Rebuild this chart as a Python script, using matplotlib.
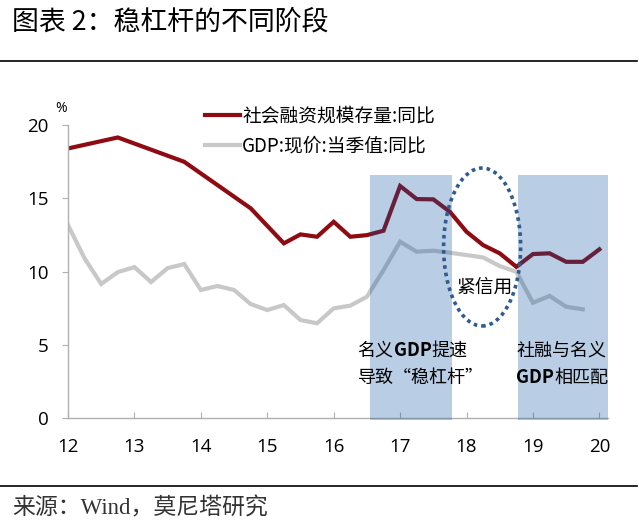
import matplotlib
matplotlib.use("Agg")
import matplotlib.pyplot as plt
from matplotlib.patches import Rectangle, Ellipse

plt.rcParams['font.family'] = ['Noto Sans CJK SC', 'DejaVu Sans']

# ---- data ----
tsf_x = [12.0, 12.75, 13.75, 14.75, 15.25, 15.5, 15.75, 16.0, 16.25, 16.5, 16.75,
         17.0, 17.25, 17.5, 17.75, 18.0, 18.25, 18.5, 18.75, 19.0, 19.25, 19.5, 19.75, 20.0]
tsf_y = [18.4, 19.15, 17.49, 14.32, 11.93, 12.54, 12.38, 13.4, 12.38, 12.49, 12.79,
         15.84, 14.95, 14.93, 14.08, 12.72, 11.81, 11.25, 10.33, 11.2, 11.25, 10.67, 10.67, 11.52]

gdp_x = [12.0, 12.25, 12.5, 12.75, 13.0, 13.25, 13.5, 13.75, 14.0, 14.25, 14.5, 14.75,
         15.0, 15.25, 15.5, 15.75, 16.0, 16.25, 16.5, 16.75, 17.0, 17.25, 17.5, 17.75,
         18.0, 18.25, 18.5, 18.75, 19.0, 19.25, 19.5, 19.75]
gdp_y = [13.18, 10.9, 9.16, 9.97, 10.31, 9.29, 10.24, 10.52, 8.75, 9.02, 8.75, 7.79,
         7.38, 7.72, 6.7, 6.48, 7.5, 7.68, 8.29, 10.1, 12.04, 11.36, 11.43, 11.29,
         11.13, 10.97, 10.38, 9.99, 7.88, 8.34, 7.61, 7.43]

series_labels = ['社会融资规模存量:同比', 'GDP:现价:当季值:同比']
x_ticks = [12, 13, 14, 15, 16, 17, 18, 19, 20]
y_ticks = [0, 5, 10, 15, 20]

bands = [(16.54, 17.78), (18.77, 20.13)]
band_top = 16.58
ellipse_center = (18.235, 11.68)
ellipse_size = (1.16, 10.77)

title = '图表 2：稳杠杆的不同阶段'
source = '来源：Wind，莫尼塔研究'

# ---- figure ----
fig = plt.figure(figsize=(6.39, 5.27), dpi=100)
ax = fig.add_axes([68 / 639, 1 - 418.3 / 527, 540 / 639, 293.3 / 527])

red = '#8e0b12'
grey = '#c8c8c8'
ax.plot(tsf_x, tsf_y, color=red, lw=3.0, solid_joinstyle='miter', zorder=2, label=series_labels[0])
ax.plot(gdp_x, gdp_y, color=grey, lw=3.0, solid_joinstyle='miter', zorder=1, label=series_labels[1])

for x0, x1 in bands:
    ax.add_patch(Rectangle((x0, -0.15), x1 - x0, band_top + 0.15, facecolor=(14/255, 83/255, 162/255),
                           alpha=0.29, edgecolor='none', zorder=3, clip_on=False))

ax.add_patch(Ellipse(ellipse_center, ellipse_size[0], ellipse_size[1], fill=False,
                     edgecolor='#2f5b8e', lw=2.6, linestyle=(0, (1, 1.1)), zorder=4))

ax.text(18.28, 8.95, '紧信用', fontsize=13.5, ha='center', va='center', zorder=5)


def rich_text(x, y, pieces, size=13):
    """pieces: list of (text, bold) drawn one after another on a line."""
    prev = None
    for txt, bold in pieces:
        kw = dict(fontsize=size, va='bottom', ha='left', zorder=5,
                  fontweight='bold' if bold else 'normal')
        if prev is None:
            prev = ax.text(x, y, txt, **kw)
        else:
            prev = ax.annotate(txt, xy=(1, 0), xycoords=prev, **kw)
    return prev


rich_text(16.36, 4.66 - 0.68, [('名义', False), ('GDP', True), ('提速', False)])
rich_text(16.36, 2.82 - 0.68, [('导致“稳杠杆”', False)])
rich_text(18.75, 4.66 - 0.68, [('社融与名义', False)])
rich_text(18.75, 2.82 - 0.68, [('GDP', True), ('相匹配', False)])

ax.set_xlim(12, 20.13)
ax.set_ylim(0, 20)
ax.set_xticks(x_ticks)
ax.set_yticks(y_ticks)
ax.set_xticklabels([str(v) for v in x_ticks], family='Open Sans', fontsize=13.5)
ax.set_yticklabels([str(v) for v in y_ticks], family='Open Sans', fontsize=13.5)
ax.tick_params(axis='x', direction='in', length=4, color='#b0b0b0', pad=14)
ax.tick_params(axis='y', direction='out', length=4, color='#b0b0b0', pad=10)
for s in ['top', 'right']:
    ax.spines[s].set_visible(False)
for s in ['left', 'bottom']:
    ax.spines[s].set_color('#b0b0b0')
    ax.spines[s].set_linewidth(1)

ax.text(-0.012, 1.057, '%', transform=ax.transAxes, fontsize=10, ha='center', va='center',
        family='Open Sans')

leg = ax.legend(loc='upper left', bbox_to_anchor=(0.254, 1.0655), frameon=False, fontsize=13.5,
                handlelength=1.87, handletextpad=0.1, labelspacing=0.46, borderpad=0,
                borderaxespad=0)

fig.text(12 / 639, 1 - 22 / 527, title, fontsize=19.4, ha='left', va='center')
fig.add_artist(plt.Line2D([0, 637 / 639], [1 - 60.5 / 527] * 2, color='black', lw=1.2))
fig.add_artist(plt.Line2D([0, 637 / 639], [1 - 486 / 527] * 2, color='black', lw=1.2))
fig.text(12 / 639, 1 - 508 / 527, source, fontsize=16.5, ha='left', va='center',
         family=['Liberation Serif', 'Noto Sans CJK SC'], color='#333333')

fig.savefig('out.png', dpi=100)
